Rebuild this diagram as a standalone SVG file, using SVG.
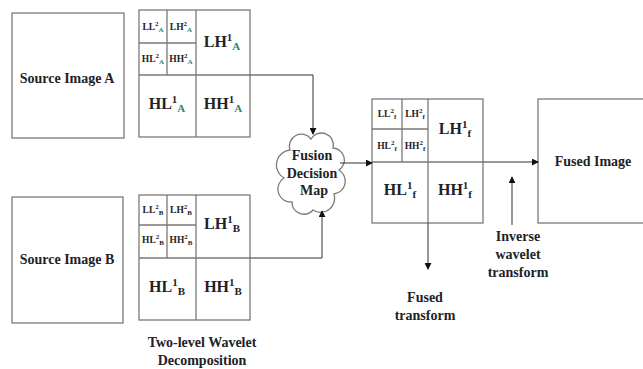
<svg xmlns="http://www.w3.org/2000/svg" width="643" height="369" viewBox="0 0 643 369">
<style>
.box{fill:#fff;stroke:#7a7a7a;stroke-width:1.3}
.ln{stroke:#7a7a7a;stroke-width:1.3;fill:none}
.t{font-family:"Liberation Serif","Times New Roman",serif;font-weight:bold;fill:#1e2226;text-anchor:middle}
.lbl{font-size:14px}
.big{font-size:16px}
.sm{font-size:9.5px}
.sub{fill:#2f8070}
.con{stroke:#333;stroke-width:1;fill:none;marker-end:url(#ah)}
</style>
<defs>
<marker id="ah" viewBox="0 0 8 8" refX="7" refY="4" markerWidth="7" markerHeight="7" markerUnits="userSpaceOnUse" orient="auto">
<path d="M0,0 L8,4 L0,8 Z" fill="#111"/>
</marker>
</defs>
<rect width="643" height="369" fill="#fff"/>

<g id="srcA">
<rect class="box" x="12" y="13" width="112" height="125"/>
<text class="t lbl" x="67" y="83">Source Image A</text>
</g>

<g id="srcB">
<rect class="box" x="12" y="197" width="111" height="126"/>
<text class="t lbl" x="67" y="264">Source Image B</text>
</g>

<g id="gridA">
<rect class="box" x="139" y="10" width="111" height="127"/>
<path class="ln" d="M196,10 V137 M139,75 H250 M167,10 V75 M139,43 H196"/>
<text class="t sm" x="153" y="30">LL<tspan dy="-4" font-size="7">2</tspan><tspan dy="6" font-size="7" class="sub">A</tspan></text>
<text class="t sm" x="181" y="30">LH<tspan dy="-4" font-size="7">2</tspan><tspan dy="6" font-size="7" class="sub">A</tspan></text>
<text class="t sm" x="153" y="62">HL<tspan dy="-4" font-size="7">2</tspan><tspan dy="6" font-size="7" class="sub">A</tspan></text>
<text class="t sm" x="181" y="62">HH<tspan dy="-4" font-size="7">2</tspan><tspan dy="6" font-size="7" class="sub">A</tspan></text>
<text class="t big" x="222" y="47">LH<tspan dy="-6" font-size="11">1</tspan><tspan dy="9" font-size="11" class="sub">A</tspan></text>
<text class="t big" x="167" y="109">HL<tspan dy="-6" font-size="11">1</tspan><tspan dy="9" font-size="11" class="sub">A</tspan></text>
<text class="t big" x="223" y="109">HH<tspan dy="-6" font-size="11">1</tspan><tspan dy="9" font-size="11" class="sub">A</tspan></text>
</g>

<g id="gridB">
<rect class="box" x="139" y="195" width="111" height="125"/>
<path class="ln" d="M196,195 V320 M139,258 H250 M167,195 V258 M139,225 H196"/>
<text class="t sm" x="153" y="213">LL<tspan dy="-4" font-size="7">2</tspan><tspan dy="6" font-size="7">B</tspan></text>
<text class="t sm" x="181" y="213">LH<tspan dy="-4" font-size="7">2</tspan><tspan dy="6" font-size="7">B</tspan></text>
<text class="t sm" x="153" y="243">HL<tspan dy="-4" font-size="7">2</tspan><tspan dy="6" font-size="7">B</tspan></text>
<text class="t sm" x="181" y="243">HH<tspan dy="-4" font-size="7">2</tspan><tspan dy="6" font-size="7">B</tspan></text>
<text class="t big" x="222" y="229">LH<tspan dy="-6" font-size="11">1</tspan><tspan dy="9" font-size="11">B</tspan></text>
<text class="t big" x="167" y="292">HL<tspan dy="-6" font-size="11">1</tspan><tspan dy="9" font-size="11">B</tspan></text>
<text class="t big" x="223" y="292">HH<tspan dy="-6" font-size="11">1</tspan><tspan dy="9" font-size="11">B</tspan></text>
</g>

<g id="decomp-label">
<text class="t lbl" x="202" y="347">Two-level Wavelet</text>
<text class="t lbl" x="202" y="365">Decomposition</text>
</g>

<g id="cloud">
<path class="ln" fill="#fff" d="M290,150 A12,12 0 0 1 311,139 A12,12 0 0 1 333,148 A12,12 0 0 1 339,170 A13,13 0 0 1 334,194 A14,14 0 0 1 313,210 A12,12 0 0 1 292,202 A13,13 0 0 1 284,178 A15,15 0 0 1 290,150 Z"/>
<text class="t lbl" x="312" y="160">Fusion</text>
<text class="t lbl" x="312" y="178">Decision</text>
<text class="t lbl" x="314" y="195">Map</text>
</g>

<g id="gridF">
<rect class="box" x="372" y="99" width="111" height="124"/>
<path class="ln" d="M428,99 V223 M372,162 H483 M402,99 V162 M372,129 H428"/>
<text class="t sm" x="387" y="117">LL<tspan dy="-4" font-size="7">2</tspan><tspan dy="6" font-size="7">f</tspan></text>
<text class="t sm" x="415" y="117">LH<tspan dy="-4" font-size="7">2</tspan><tspan dy="6" font-size="7">f</tspan></text>
<text class="t sm" x="387" y="149">HL<tspan dy="-4" font-size="7">2</tspan><tspan dy="6" font-size="7">f</tspan></text>
<text class="t sm" x="415" y="149">HH<tspan dy="-4" font-size="7">2</tspan><tspan dy="6" font-size="7">f</tspan></text>
<text class="t big" x="455" y="134">LH<tspan dy="-6" font-size="11">1</tspan><tspan dy="9" font-size="11">f</tspan></text>
<text class="t big" x="400" y="195">HL<tspan dy="-6" font-size="11">1</tspan><tspan dy="9" font-size="11">f</tspan></text>
<text class="t big" x="455" y="195">HH<tspan dy="-6" font-size="11">1</tspan><tspan dy="9" font-size="11">f</tspan></text>
</g>

<g id="fused">
<rect class="box" x="538" y="99" width="110" height="124"/>
<text class="t lbl" x="593" y="166">Fused Image</text>
</g>

<g id="labels">
<text class="t lbl" x="425" y="302">Fused</text>
<text class="t lbl" x="425" y="320">transform</text>
<text class="t lbl" x="518" y="241">Inverse</text>
<text class="t lbl" x="518" y="259">wavelet</text>
<text class="t lbl" x="518" y="277">transform</text>
</g>

<g id="connectors">
<path class="con" d="M250,75 H313 V134"/>
<path class="con" d="M250,258 H322 V211"/>
<path class="con" d="M340,163 H372"/>
<path class="con" d="M483,162 H538"/>
<path class="con" d="M512,225 V177"/>
<path class="con" d="M428,223 V269"/>
</g>
</svg>
